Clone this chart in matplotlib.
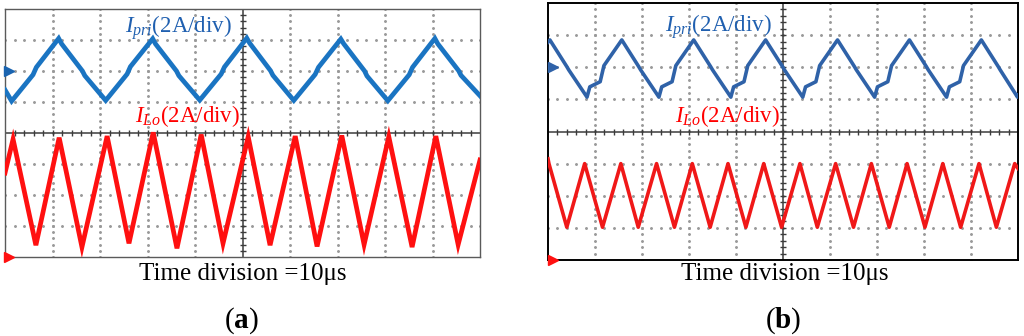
import matplotlib
matplotlib.use("Agg")
import matplotlib.pyplot as plt
import numpy as np

plt.rcParams['font.family'] = ['Liberation Serif', 'DejaVu Serif']
plt.rcParams['mathtext.fontset'] = 'custom'
plt.rcParams['mathtext.rm'] = 'Liberation Serif'
plt.rcParams['mathtext.it'] = 'Liberation Serif:italic'
plt.rcParams['mathtext.bf'] = 'Liberation Serif:bold'

# --- traces, read off the scope screens (time and amplitude in divisions) ---
# (a) primary current
ipri_a_t = [0.00, 0.14, 0.59, 0.66, 1.13, 1.19, 1.63, 1.68, 2.12, 2.57, 2.64, 3.11, 3.17, 3.61, 3.66,
            4.10, 4.55, 4.62, 5.09, 5.15, 5.59, 5.64, 6.08, 6.53, 6.60, 7.07, 7.13, 7.57, 7.62,
            8.06, 8.51, 8.58, 9.05, 9.11, 9.55, 9.60, 10.00]
ipri_a_v = [1.39, 1.03, 1.88, 2.12, 3.05, 2.88, 2.00, 1.85, 1.05, 1.90, 2.14, 3.04, 2.87, 2.00, 1.85,
            1.06, 1.90, 2.13, 3.06, 2.90, 2.01, 1.86, 1.05, 1.89, 2.12, 3.03, 2.88, 2.00, 1.84,
            1.04, 1.88, 2.12, 3.05, 2.88, 2.01, 1.86, 1.20]
# (a) output inductor current
ilo_a_t = [0.00, 0.17, 0.65, 1.14, 1.62, 2.15, 2.61, 3.12, 3.62, 4.13, 4.59, 5.12, 5.58,
           6.11, 6.57, 7.09, 7.56, 8.08, 8.57, 9.07, 9.54, 10.00]
ilo_a_v = [-1.29, -0.20, -3.62, -0.15, -3.68, -0.10, -3.56, 0.02, -3.72, -0.05, -3.56, -0.12, -3.62,
           -0.10, -3.66, -0.08, -3.60, -0.12, -3.68, -0.10, -3.60, -0.87]
# (b) primary current
ipri_b_t = [0.00, 0.04, 0.40, 0.44, 0.83, 0.89, 1.11, 1.19, 1.57, 1.93, 1.97, 2.36, 2.42, 2.64,
            2.72, 3.10, 3.46, 3.50, 3.89, 3.95, 4.17, 4.25, 4.63, 4.99, 5.03, 5.42, 5.48, 5.70,
            5.78, 6.16, 6.52, 6.56, 6.95, 7.01, 7.23, 7.31, 7.69, 8.05, 8.09, 8.48, 8.54, 8.76,
            8.84, 9.22, 9.58, 9.62, 9.99, 10.00]
ipri_b_v = [2.78, 2.85, 2.02, 1.92, 1.07, 1.39, 1.55, 2.05, 2.85, 2.02, 1.92, 1.07, 1.39, 1.55,
            2.05, 2.85, 2.02, 1.92, 1.07, 1.39, 1.55, 2.05, 2.85, 2.02, 1.92, 1.07, 1.39, 1.55,
            2.05, 2.85, 2.02, 1.92, 1.07, 1.39, 1.55, 2.05, 2.85, 2.02, 1.92, 1.07, 1.39, 1.55,
            2.05, 2.85, 2.02, 1.92, 1.07, 1.13]
# (b) output inductor current
ilo_b_t = [0.00, 0.02, 0.40, 0.78, 1.16, 1.55, 1.92, 2.31, 2.69, 3.07, 3.45, 3.83, 4.21, 4.59,
           4.97, 5.36, 5.73, 6.12, 6.50, 6.88, 7.26, 7.64, 8.02, 8.40, 8.78, 9.17, 9.54, 9.93, 10.00]
ilo_b_v = [-0.85, -1.00, -2.98, -1.00, -2.98, -1.00, -2.98, -1.00, -2.98, -1.00, -2.98, -1.00,
           -2.98, -1.00, -2.98, -1.00, -2.98, -1.00, -2.98, -1.00, -2.98, -1.00, -2.98, -1.00,
           -2.98, -1.00, -2.98, -1.00, -1.15]

ground_pri = 2.0
ground_lo = -4.0
label_pri = '$I_{pri}$(2A/div)'
label_lo = '$I_{Lo}$(2A/div)'
time_label = 'Time division =10μs'

W, H = 1024, 336
fig = plt.figure(figsize=(W / 100, H / 100), dpi=100)


def px_axes(x0, y0, x1, y1):
    return fig.add_axes([x0 / W, 1 - y1 / H, (x1 - x0) / W, (y1 - y0) / H])


def scope(ax, frame_col, frame_lw):
    ax.set_xlim(0, 10)
    ax.set_ylim(-4, 4)
    ax.set_xticks([])
    ax.set_yticks([])
    for s in ax.spines.values():
        s.set_color(frame_col)
        s.set_linewidth(frame_lw)
    xs = np.arange(0, 10.001, 0.2)
    ys = np.arange(-4, 4.001, 0.2)
    # dotted graticule
    for xv in [1, 2, 3, 4, 6, 7, 8, 9]:
        ax.plot(np.full(len(ys), xv), ys, ls='none', marker='o', ms=1.1, color='#9a9a9a', zorder=1)
    for yv in [-3, -2, -1, 1, 2, 3]:
        ax.plot(xs, np.full(len(xs), yv), ls='none', marker='o', ms=1.1, color='#9a9a9a', zorder=1)
    # centre cross with minor ticks
    ax.axhline(0, color='#3c3c3c', lw=1.1, zorder=2)
    ax.axvline(5, color='#3c3c3c', lw=1.1, zorder=2)
    ax.plot(xs[1:-1], np.zeros(len(xs) - 2), ls='none', marker='|', ms=5, mew=1.0, color='#3c3c3c', zorder=2)
    ax.plot(np.full(len(ys) - 2, 5), ys[1:-1], ls='none', marker='_', ms=5, mew=1.0, color='#3c3c3c', zorder=2)


# panel (a)
ax1 = px_axes(5, 9, 480, 257)
scope(ax1, '#5a5a5a', 1.0)
ax1.plot(ipri_a_t, ipri_a_v, color='#1a74c2', lw=3.4, solid_joinstyle='miter', zorder=3)
ax1.plot(ilo_a_t, ilo_a_v, color='#ff1010', lw=3.4, solid_joinstyle='miter', zorder=3)
ax1.plot(0.08, ground_pri, marker='>', ms=6.5, color='#1a64b0', clip_on=False, zorder=5)
ax1.plot(0.08, ground_lo, marker='>', ms=6.5, color='#ff1010', clip_on=False, zorder=5)
ax1.text(2.53, 3.23, label_pri, color='#2060b0', fontsize=16.5, va='baseline', ha='left', zorder=6)
ax1.text(2.74, 0.35, label_lo, color='#ff0000', fontsize=16.5, va='baseline', ha='left', zorder=6)

# panel (b)
ax2 = px_axes(548, 3, 1018, 260)
scope(ax2, '#000000', 1.4)
ax2.plot(ipri_b_t, ipri_b_v, color='#2f62a8', lw=2.6, zorder=3)
ax2.plot(ilo_b_t, ilo_b_v, color='#f01818', lw=2.6, zorder=3)
ax2.plot(0.1, ground_pri, marker='>', ms=6.5, color='#2f62a8', clip_on=False, zorder=5)
ax2.plot(0.1, ground_lo, marker='>', ms=6.5, color='#ff1010', clip_on=False, zorder=5)
ax2.text(2.49, 3.10, label_pri, color='#2060b0', fontsize=16.5, va='baseline', ha='left', zorder=6)
ax2.text(2.70, 0.30, label_lo, color='#ff0000', fontsize=16.5, va='baseline', ha='left', zorder=6)

# captions
fig.text(243 / W, 1 - 280 / H, time_label, ha='center', va='baseline', fontsize=18)
fig.text(785 / W, 1 - 280 / H, time_label, ha='center', va='baseline', fontsize=18)
fig.text(241 / W, 1 - 321 / H, '($\\mathbf{a}$)', ha='center', va='center', fontsize=21)
fig.text(783 / W, 1 - 321 / H, '($\\mathbf{b}$)', ha='center', va='center', fontsize=21)

fig.savefig('out.png', dpi=100)
